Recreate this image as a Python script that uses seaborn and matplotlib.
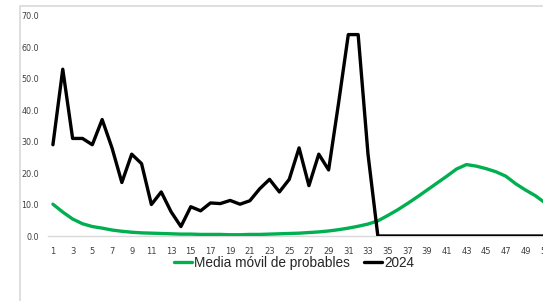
import numpy as np
import pandas as pd
import matplotlib
matplotlib.use("Agg")
import matplotlib.pyplot as plt
import seaborn as sns
from matplotlib.patches import Rectangle
from matplotlib.lines import Line2D

weeks = list(range(1, 53))
media_movil = [10.1, 7.6, 5.4, 3.9, 3.0, 2.5, 1.9, 1.5, 1.2, 1.0,
               0.9, 0.8, 0.7, 0.6, 0.6, 0.5, 0.5, 0.5, 0.4, 0.4,
               0.5, 0.5, 0.6, 0.7, 0.8, 0.9, 1.1, 1.3, 1.6, 2.0,
               2.5, 3.1, 3.8, 4.8, 6.5, 8.3, 10.3, 12.4, 14.6, 16.8,
               19.0, 21.3, 22.7, 22.2, 21.4, 20.4, 19.0, 16.6, 14.6, 12.8,
               10.5, 8.5]
serie_2024 = [29, 53, 31, 31, 29, 37, 28, 17, 26, 23,
              10, 14, 7.7, 3, 9.3, 8, 10.5, 10.3, 11.3, 10.1,
              11.2, 15, 18, 14, 18, 28, 16, 26, 21, 42,
              64, 64, 26, 0, 0, 0, 0, 0, 0, 0,
              0, 0, 0, 0, 0, 0, 0, 0, 0, 0,
              0, 0]
series_names = ["Media móvil de probables", "2024"]
y_ticks = [0, 10, 20, 30, 40, 50, 60, 70]
x_ticks = list(range(1, 53, 2))

df = pd.DataFrame({
    "semana": weeks * 2,
    "valor": media_movil + serie_2024,
    "serie": [series_names[0]] * len(weeks) + [series_names[1]] * len(weeks),
})

sns.set_theme(style="white")
plt.rcParams['font.family'] = ['DejaVu Sans']

W, H = 543, 301
fig = plt.figure(figsize=(W / 100, H / 100), dpi=100)
ax = fig.add_axes([48 / W, (H - 236) / H, 512 / W, (236 - 15.7) / H])

sns.lineplot(data=df, x="semana", y="valor", hue="serie",
             palette={series_names[0]: "#00B050", series_names[1]: "#000000"},
             linewidth=2.4, ax=ax, legend=False, zorder=3)

ax.set_xlim(0.5, 52.5)
ax.set_ylim(0, 70)
ax.set_xticks(x_ticks)
ax.set_xticklabels([str(t) for t in x_ticks], fontsize=6, color="#404040")
ax.set_yticks(y_ticks)
ax.set_yticklabels([f"{v:.1f}" for v in y_ticks], fontsize=5.8, color="#404040")
ax.tick_params(axis="x", length=0, pad=8)
ax.tick_params(axis="y", length=0, pad=6.5)
ax.set_xlabel("")
ax.set_ylabel("")
for s in ["top", "right", "left"]:
    ax.spines[s].set_visible(False)
ax.spines["bottom"].set_color("#D9D9D9")
ax.spines["bottom"].set_linewidth(1.0)
ax.patch.set_alpha(0)

# chart frame
fig.patches.append(Rectangle((20 / W, -0.2), 1.2, (H - 6) / H + 0.2,
                             transform=fig.transFigure, fill=False,
                             edgecolor="#D9D9D9", linewidth=1.2))

handles = [Line2D([], [], color="#00B050", lw=2.4),
           Line2D([], [], color="#000000", lw=2.4)]
fig.legend(handles, series_names, loc="center", bbox_to_anchor=(294 / W, (H - 263) / H),
           ncol=2, frameon=False, handlelength=1.3, handletextpad=0.15,
           columnspacing=1.1, prop={"family": "Liberation Sans", "size": 9.8})

fig.savefig("out.png", dpi=100)
